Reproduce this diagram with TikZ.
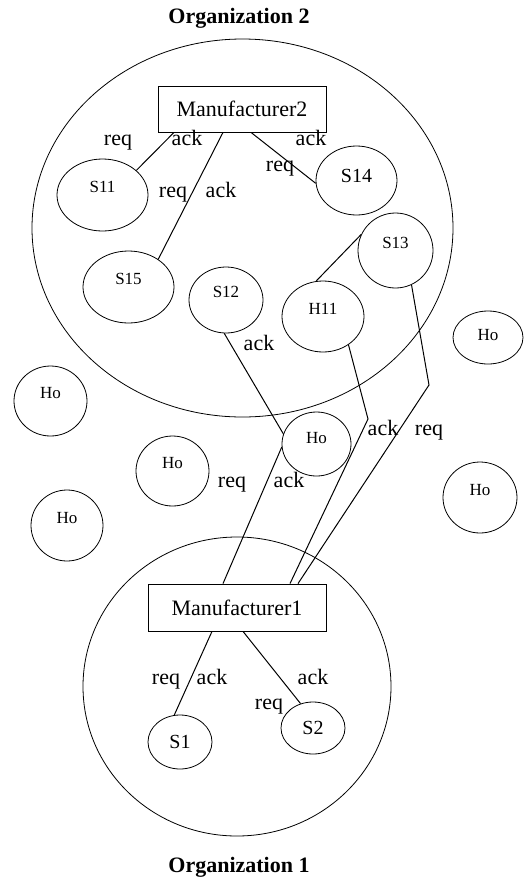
\documentclass[tikz,border=0pt]{standalone}
\usepackage{fontspec}
\setmainfont{Liberation Serif}
\usetikzlibrary{shapes.geometric}
\tikzset{
  orgbox/.style={draw, ellipse, inner sep=0pt},
  mfrbox/.style={draw, rectangle, inner sep=0pt, font=\fontsize{11}{13}\selectfont},
  peer/.style={draw, ellipse, inner sep=0pt, text depth=8pt,
               font=\fontsize{8.5}{10}\selectfont},
  msg/.style={anchor=base, inner sep=0pt, font=\fontsize{11}{13}\selectfont},
  orgtitle/.style={inner sep=0pt, font=\fontsize{11}{13}\selectfont\bfseries},
  link/.style={line width=0.5pt}}

\begin{document}
\begin{tikzpicture}[x=0.5pt, y=-0.5pt]
  \useasboundingbox (0,0) rectangle (529,879);

  % the two organizations
  \node[orgtitle] (t2) at (239,18) {Organization 2};
  \node[orgbox, minimum width=210.5pt, minimum height=189pt] (org2) at (242.5,228) {};
  \node[orgtitle] (t1) at (239,867) {Organization 1};
  \node[orgbox, minimum width=154pt, minimum height=149.5pt] (org1) at (237,686.5) {};

  \node[mfrbox, minimum width=84pt, minimum height=23pt] (m2) at (242,109) {Manufacturer2};
  \node[mfrbox, minimum width=89pt, minimum height=23.5pt] (m1) at (237,607.5) {Manufacturer1};

  % suppliers of manufacturer 2
  \node[peer, minimum width=45.5pt, minimum height=36pt] (s11) at (102.5,195) {S11};
  \node[peer, minimum width=40.5pt, minimum height=34.5pt, text depth=4.5pt,
        font=\fontsize{10}{12}\selectfont] (s14) at (356.5,180.5) {S14};
  \node[peer, minimum width=37.5pt, minimum height=37.5pt] (s13) at (395.5,250.5) {S13};
  \node[peer, minimum width=45.5pt, minimum height=36pt] (s15) at (128.5,287) {S15};
  \node[peer, minimum width=37pt, minimum height=33pt] (s12) at (226,300) {S12};
  \node[peer, minimum width=41pt, minimum height=35.5pt] (h11) at (323,316.5) {H11};

  % outside hosts
  \node[peer, minimum width=35pt, minimum height=26.5pt, text depth=2.5pt] (ho1) at (488,337.5) {Ho};
  \node[peer, minimum width=36.5pt, minimum height=35pt] (ho2) at (50.5,401) {Ho};
  \node[peer, minimum width=34.5pt, minimum height=32pt, text depth=6pt] (ho3) at (316.5,444) {Ho};
  \node[peer, minimum width=36.5pt, minimum height=35pt] (ho4) at (172.5,471) {Ho};
  \node[peer, minimum width=36pt, minimum height=35.5pt] (ho5) at (67,525.5) {Ho};
  \node[peer, minimum width=37pt, minimum height=35.5pt] (ho6) at (480,497.5) {Ho};

  % suppliers of manufacturer 1
  \node[peer, minimum width=32pt, minimum height=27pt, text depth=0pt,
        font=\fontsize{10}{12}\selectfont] (s1) at (180,742) {S1};
  \node[peer, minimum width=32pt, minimum height=26pt, text depth=0pt,
        font=\fontsize{10}{12}\selectfont] (s2) at (313,728) {S2};

  \coordinate (bendA) at (368,419);
  \coordinate (bendB) at (429,385);

  % links
  \draw[link] ([xshift=-34pt]m2.south) -- (s11.36);
  \draw[link] ([xshift=-9.5pt]m2.south) -- (s15.43);
  \draw[link] ([xshift=4.5pt]m2.south) -- (s14.184);
  \draw[link] (s13.155) -- (h11.101);
  \draw[link] (s12.267) -- (ho3.163);
  \draw[link] (ho3.185) -- ([xshift=-7pt]m1.north);
  \draw[link] (h11.312) -- (bendA) -- ([xshift=26.5pt]m1.north);
  \draw[link] (s13.295) -- (bendB) -- ([xshift=30.5pt]m1.north);
  \draw[link] ([xshift=-12.5pt]m1.south) -- (s1.102);
  \draw[link] ([xshift=3pt]m1.south) -- (s2.117);

  % message labels
  \node[msg] (r1) at (118,145) {req};
  \node[msg] (a1) at (187,145) {ack};
  \node[msg] (r2) at (173,197) {req};
  \node[msg] (a2) at (221,197) {ack};
  \node[msg] (a3) at (311,145) {ack};
  \node[msg] (r3) at (280,171) {req};
  \node[msg] (a4) at (259,350) {ack};
  \node[msg] (r5) at (232,487) {req};
  \node[msg] (a5) at (289,487) {ack};
  \node[msg] (a6) at (383,435) {ack};
  \node[msg] (r6) at (429,435) {req};
  \node[msg] (r7) at (166,684) {req};
  \node[msg] (a7) at (212,684) {ack};
  \node[msg] (a8) at (313,684) {ack};
  \node[msg] (r8) at (269,709) {req};
\end{tikzpicture}
\end{document}
